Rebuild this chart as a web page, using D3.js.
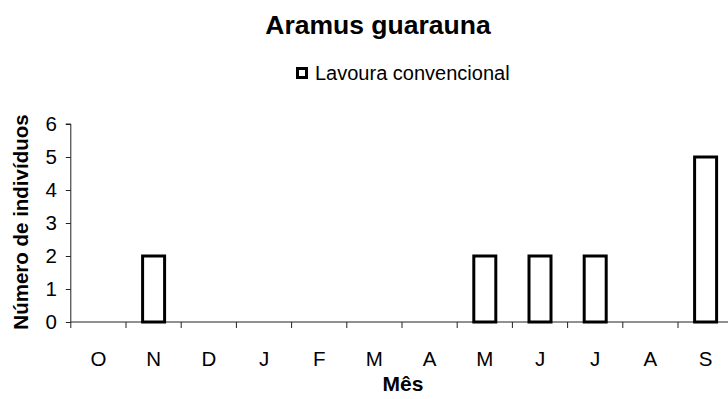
<!DOCTYPE html>
<html><head><meta charset="utf-8">
<script src="https://cdn.jsdelivr.net/npm/d3@7"></script>
<style>body{margin:0;background:#fff}svg{display:block}text{font-family:"Liberation Sans",Arial,sans-serif}</style>
</head><body><svg id="c" width="728" height="399"></svg>
<script>
const months = ["O","N","D","J","F","M","A","M","J","J","A","S"];
const values = [0,2,0,0,0,0,0,2,2,2,0,5];
const yTicks = [0,1,2,3,4,5,6];
const title = "Aramus guarauna";
const seriesName = "Lavoura convencional";
const xLabel = "Mês";
const yLabel = "Número de indivíduos";

const svg = d3.select("#c");
const x0 = 70.8, step = 55.2;
const x = d3.scaleBand().domain(d3.range(months.length)).range([x0, x0 + step*months.length]).padding(0);
const y = d3.scaleLinear().domain([0,6]).range([322,124]);
const axisColor = "#222";

// y axis
const yAx = svg.append("g").attr("transform",`translate(${x0},0)`)
  .call(d3.axisLeft(y).tickValues(yTicks).tickSize(5).tickPadding(9).tickFormat(d3.format("d")));
yAx.select(".domain").attr("stroke",axisColor).attr("d",`M-5,${y(6)}H0V${y(0)+6}`);
yAx.selectAll(".tick line").attr("stroke",axisColor);
yAx.selectAll("text").attr("font-size",20.5).attr("fill","#000").attr("font-family","Liberation Sans, Arial, sans-serif");

// x axis
const xg = svg.append("g").attr("transform",`translate(0,${y(0)})`);
xg.append("line").attr("x1",x0).attr("x2",728).attr("y1",0).attr("y2",0).attr("stroke",axisColor);
xg.selectAll(".tk").data(d3.range(1,months.length)).enter().append("line")
  .attr("x1",d=>x(d)).attr("x2",d=>x(d)).attr("y1",0).attr("y2",6).attr("stroke",axisColor);
xg.selectAll(".lb").data(months).enter().append("text")
  .attr("x",(d,i)=>x(i)+x.bandwidth()/2).attr("y",44).attr("text-anchor","middle").attr("font-size",20.5).text(d=>d);

// bars
const bw = 22;
svg.append("g").selectAll("rect").data(values.map((v,i)=>({v,i})).filter(d=>d.v>0)).enter().append("rect")
  .attr("x",d=>x(d.i)+x.bandwidth()/2-bw/2).attr("y",d=>y(d.v))
  .attr("width",bw).attr("height",d=>y(0)-y(d.v))
  .attr("fill","#fff").attr("stroke","#000").attr("stroke-width",3);

// title
svg.append("text").attr("x",378).attr("y",34).attr("text-anchor","middle").attr("font-size",26.5).attr("font-weight","bold").text(title);
// legend
svg.append("rect").attr("x",297.5).attr("y",68.5).attr("width",9).attr("height",9).attr("fill","#fff").attr("stroke","#000").attr("stroke-width",3);
svg.append("text").attr("x",315).attr("y",80).attr("font-size",20).text(seriesName);
// axis titles
svg.append("text").attr("x",403).attr("y",391).attr("text-anchor","middle").attr("font-size",21).attr("font-weight","bold").text(xLabel);
svg.append("text").attr("transform","translate(28,222) rotate(-90)").attr("text-anchor","middle").attr("font-size",20.5).attr("font-weight","bold").text(yLabel);
</script></body></html>
